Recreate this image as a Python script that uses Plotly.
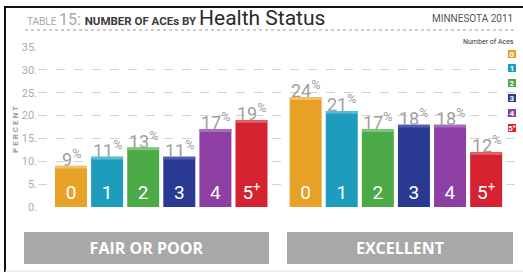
import plotly.graph_objects as go

# ---- data ----
ace_categories = ["0", "1", "2", "3", "4", "5+"]
fair_poor_pct = [9, 11, 13, 11, 17, 19]
excellent_pct = [24, 21, 17, 18, 18, 12]
group_labels = ["FAIR OR POOR", "EXCELLENT"]
y_ticks = [0, 5, 10, 15, 20, 25, 30, 35]

# ---- style ----
colors = ["#E8A127", "#1E9CBD", "#4BA946", "#2A3A92", "#8D3FA3", "#D42231"]
cap_colors = ["#F2C166", "#5CBCD6", "#7DC676", "#4F5FB0", "#AA6CC0", "#E85A63"]
NARROW = "Roboto, Lato, Liberation Sans, sans-serif"
W, H = 523, 274
ML, MR, MT, MB = 38, 8, 47, 67
PW = W - ML - MR
PH = H - MT - MB
GROUP_OFFSET = 6.5
BAR_W = 0.886


def px_x(px):
    return (px - ML) / PW


def px_y(py):
    return (H - MB - py) / PH


def cat_text(c):
    return c.replace("+", "<sup>+</sup>")


fig = go.Figure()
ann = []
groups = [fair_poor_pct, excellent_pct]
for gi, vals in enumerate(groups):
    xs = [i + gi * GROUP_OFFSET for i in range(len(ace_categories))]
    fig.add_trace(go.Bar(
        x=xs, y=vals, width=BAR_W,
        marker=dict(color=colors, line=dict(width=0)),
        text=[cat_text(c) for c in ace_categories],
        textposition="inside", insidetextanchor="start", textangle=0,
        textfont=dict(color="white", size=19, family=NARROW),
        hoverinfo="skip", showlegend=False,
    ))
    # lighter top cap (3D look)
    fig.add_trace(go.Bar(
        x=xs, y=[0.6] * len(vals), base=[v - 0.6 for v in vals], width=BAR_W,
        marker=dict(color=cap_colors, line=dict(width=0)),
        hoverinfo="skip", showlegend=False,
    ))
    for x, v in zip(xs, vals):
        ann.append(dict(
            x=x, y=v, xref="x", yref="y", xanchor="center", yanchor="bottom",
            yshift=-6, showarrow=False, text=f"{v}<sup>%</sup>",
            font=dict(color="#A0A0A0", size=18, family=NARROW),
        ))

x0 = -(71 - ML) / 36.1
fig.update_layout(
    width=W, height=H,
    margin=dict(l=ML, r=MR, t=MT, b=MB, pad=0),
    paper_bgcolor="white", plot_bgcolor="white",
    barmode="overlay",
    xaxis=dict(range=[x0, x0 + PW / 36.1], showgrid=False, zeroline=False,
               showticklabels=False, showline=False, fixedrange=True),
    yaxis=dict(range=[0, 35], tickvals=y_ticks, ticktext=[f"{t}." for t in y_ticks],
               showgrid=True, gridcolor="#D2D2D2", griddash="dash", gridwidth=1,
               zeroline=False, showline=False, ticks="", ticklabelstandoff=0,
               tickfont=dict(color="#ABABAB", size=11, family=NARROW)),
    showlegend=False,
)

# title
ann.append(dict(
    xref="paper", yref="paper", x=px_x(25), y=px_y(18), xanchor="left", yanchor="middle",
    showarrow=False,
    text=("<span style='font-size:10px;color:#A8A8A8'>TABLE </span>"
          "<span style='font-size:16px;color:#A8A8A8'>15: </span>"
          "<span style='font-size:11.5px;color:#3A3A3A;font-weight:bold'>NUMBER OF ACEs BY </span>"
          "<span style='font-size:21px;color:#2A2A2A'>Health Status</span>"),
    font=dict(family=NARROW, size=21, color="#2A2A2A"),
))
ann.append(dict(
    xref="paper", yref="paper", x=px_x(515), y=px_y(18), xanchor="right", yanchor="middle",
    showarrow=False, text="MINNESOTA 2011",
    font=dict(family=NARROW, size=10, color="#555555"),
))
ann.append(dict(
    xref="paper", yref="paper", x=px_x(15), y=px_y(130), xanchor="center", yanchor="middle",
    showarrow=False, text="<b>P E R C E N T</b>", textangle=-90,
    font=dict(family=NARROW, size=8, color="#9A9A9A"),
))
# legend
ann.append(dict(
    xref="paper", yref="paper", x=px_x(516), y=px_y(42), xanchor="right", yanchor="middle",
    showarrow=False, text="Number of Aces",
    font=dict(family=NARROW, size=7, color="#333333"),
))
for i, c in enumerate(ace_categories):
    ann.append(dict(
        xref="paper", yref="paper", x=px_x(511.5), y=px_y(53.5 + i * 14.8),
        xanchor="center", yanchor="middle", showarrow=False,
        text=f"<b>{cat_text(c)}</b>", width=8, height=8, bgcolor=colors[i],
        borderpad=0, borderwidth=0,
        font=dict(family=NARROW, size=8, color="white"),
    ))
# group boxes
for gl, (l, r) in zip(group_labels, [(24, 269), (287, 513)]):
    ann.append(dict(
        xref="paper", yref="paper", x=px_x((l + r) / 2), y=px_y(248),
        xanchor="center", yanchor="middle", showarrow=False,
        text=f"<b>{gl}</b>", width=r - l, height=32, bgcolor="#A8A8A8",
        borderpad=0, borderwidth=0,
        font=dict(family="Open Sans, DejaVu Sans, sans-serif", size=16, color="white"),
    ))
fig.update_layout(annotations=ann)

shapes = [
    dict(type="line", xref="paper", yref="paper", x0=px_x(25), x1=px_x(516),
         y0=px_y(30), y1=px_y(30), line=dict(color="#9A9A9A", width=1, dash="dot")),
    dict(type="line", xref="paper", yref="paper", x0=px_x(5), x1=px_x(5),
         y0=px_y(7), y1=px_y(272), line=dict(color="#111111", width=2)),
    dict(type="line", xref="paper", yref="paper", x0=px_x(4), x1=px_x(523),
         y0=px_y(7), y1=px_y(7), line=dict(color="#111111", width=2)),
    dict(type="line", xref="paper", yref="paper", x0=px_x(5), x1=px_x(523),
         y0=px_y(271), y1=px_y(271), line=dict(color="#DDDDDD", width=1)),
]
fig.update_layout(shapes=shapes)

fig.write_html(
    "out.html",
    config={"displayModeBar": False, "staticPlot": True},
    post_script="document.body.style.margin='0px';document.body.style.overflow='hidden';",
)
